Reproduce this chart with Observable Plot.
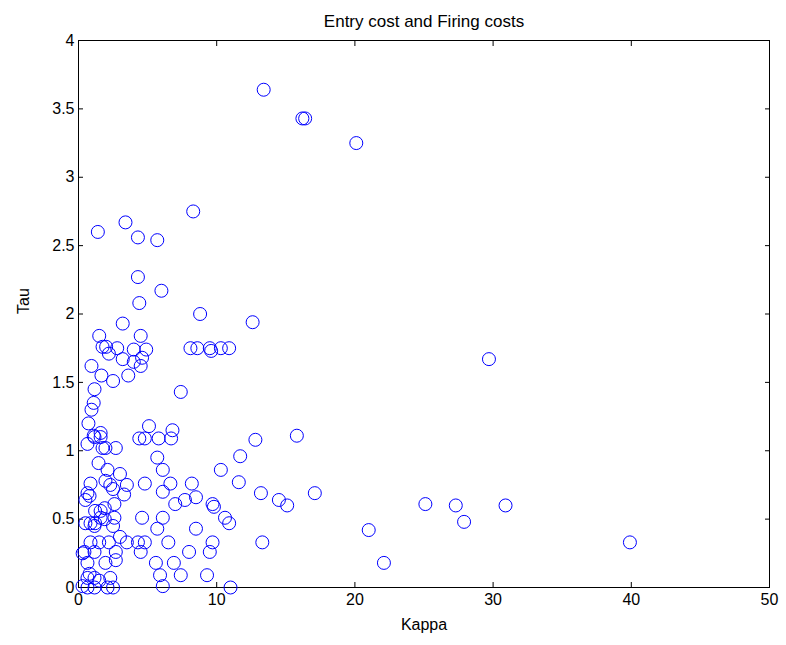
<!DOCTYPE html>
<html><head><meta charset="utf-8">
<script src="https://cdn.jsdelivr.net/npm/d3@7"></script>
<script src="https://cdn.jsdelivr.net/npm/@observablehq/plot@0.6"></script>
<style>body{margin:0;background:#fff}svg{font-family:"Liberation Sans",Arial,sans-serif}</style>
</head><body><div id="chart"></div>
<script>
const title = "Entry cost and Firing costs";
const xLabel = "Kappa";
const yLabel = "Tau";
const xTicks = [0,10,20,30,40,50];
const yTicks = [0,0.5,1,1.5,2,2.5,3,3.5,4];
const kappa = [
13.4,16.2,16.4,20.1,29.7,8.3,3.4,1.4,4.3,5.7,4.3,6.0,4.4,8.8,12.6,
3.2,1.5,4.5,1.74,2.0,2.2,2.8,4.0,4.9,3.2,4.6,4.0,4.5,0.94,1.66,2.5,3.6,1.16,1.1,0.94,0.72,1.6,1.1,5.1,
7.4,8.1,8.6,9.5,9.6,10.3,10.9,6.8,
0.65,1.16,1.6,1.74,1.95,2.7,4.4,4.8,1.45,2.1,3.0,0.87,1.95,2.3,2.5,3.5,4.8,0.65,0.8,0.5,3.3,1.9,2.6,1.2,1.6,
0.5,0.87,1.16,1.6,1.9,1.2,2.5,3.0,0.87,1.5,2.2,0.43,1.16,2.7,0.65,1.95,2.7,0.8,0.65,1.16,1.5,2.3,0.29,0.65,1.16,2.1,2.5,3.5,4.3,4.8,4.5,4.6,2.6,0.3,
5.8,6.7,5.7,6.1,10.3,6.65,6.1,8.2,7.0,7.7,8.5,9.7,9.8,
6.1,5.7,6.5,8.5,9.7,9.5,8.0,5.6,6.9,5.9,7.4,9.3,6.1,11.0,
11.7,12.8,15.8,11.6,13.2,14.5,15.1,17.1,10.6,10.9,13.3,21.0,22.1,25.1,27.3,27.9,30.9,39.9
];
const tau = [
3.64,3.43,3.43,3.25,1.67,2.75,2.67,2.60,2.56,2.54,2.27,2.17,2.08,2.00,1.94,
1.93,1.84,1.84,1.76,1.76,1.71,1.75,1.74,1.74,1.67,1.68,1.65,1.62,1.62,1.55,1.51,1.55,1.45,1.35,1.30,1.20,1.13,1.11,1.18,
1.43,1.75,1.75,1.75,1.73,1.75,1.75,1.15,
1.05,1.10,1.10,1.02,1.02,1.02,1.09,1.09,0.91,0.86,0.83,0.76,0.78,0.75,0.72,0.75,0.76,0.69,0.67,0.64,0.68,0.58,0.61,0.56,0.56,
0.47,0.47,0.45,0.51,0.50,0.47,0.45,0.37,0.33,0.33,0.33,0.26,0.26,0.26,0.18,0.18,0.20,0.10,0.07,0.07,0.05,0.07,0.01,0.00,0.00,0.00,0.00,0.33,0.33,0.33,0.26,0.51,0.51,0.25,
1.09,1.09,0.95,0.86,0.86,0.76,0.70,0.76,0.61,0.64,0.66,0.61,0.59,
0.51,0.43,0.33,0.43,0.33,0.26,0.26,0.18,0.18,0.09,0.09,0.09,0.01,0.00,
0.96,1.08,1.11,0.77,0.69,0.64,0.60,0.69,0.51,0.47,0.33,0.42,0.18,0.61,0.60,0.48,0.60,0.33
];
const pts = kappa.map((k,i)=>({k, t: tau[i]}));
const chart = Plot.plot({
  width: 786, height: 645,
  marginLeft: 78, marginRight: 17, marginTop: 40, marginBottom: 58,
  style: {fontSize: "16px", fontFamily: "Liberation Sans, Arial, sans-serif", color: "#000"},
  x: {domain: [0,50], ticks: xTicks},
  y: {domain: [0,4], ticks: yTicks},
  marks: [
    Plot.frame({stroke: "#000"}),
    Plot.axisX({ticks: xTicks, tickSize: -5, tickPadding: 11, fontSize: 16, label: null}),
    Plot.axisY({ticks: yTicks, tickSize: -5, tickPadding: 9, fontSize: 16, tickFormat: d => String(d), label: null}),
    Plot.axisX({anchor: "top", ticks: xTicks, tickSize: -5, tickFormat: () => "", label: null}),
    Plot.axisY({anchor: "right", ticks: yTicks, tickSize: -5, tickFormat: () => "", label: null}),
    Plot.dot(pts, {x: "k", y: "t", r: 6.5, stroke: "#0000ff", strokeWidth: 1, fill: "none"}),
    Plot.text([title], {frameAnchor: "top", dy: -26, fontSize: 17}),
    Plot.text([xLabel], {frameAnchor: "bottom", dy: 42, fontSize: 16}),
    Plot.text([yLabel], {frameAnchor: "left", dx: -55, rotate: -90, fontSize: 16})
  ]
});
document.getElementById("chart").append(chart);
</script></body></html>
